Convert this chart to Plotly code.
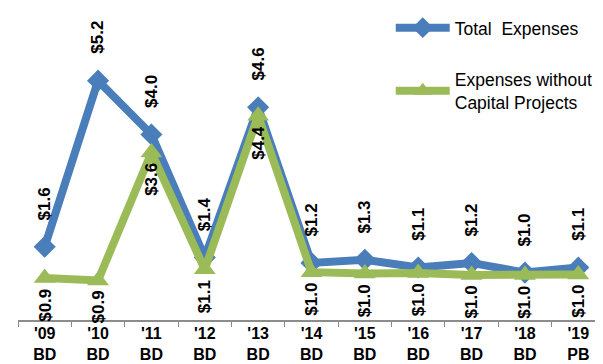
import plotly.graph_objects as go

categories = ["'09<br>BD", "'10<br>BD", "'11<br>BD", "'12<br>BD", "'13<br>BD", "'14<br>BD",
              "'15<br>BD", "'16<br>BD", "'17<br>BD", "'18<br>BD", "'19<br>PB"]
total_expenses = [1.59, 5.2, 4.03, 1.36, 4.62, 1.24, 1.31, 1.14, 1.24, 1.03, 1.14]
expenses_wo_capital = [0.91, 0.86, 3.64, 1.1, 4.44, 1.04, 1.01, 1.02, 0.98, 0.98, 0.99]

BLUE = "#4A7EBB"
GREEN = "#9BBB59"
FONT = "Arial, Liberation Sans, sans-serif"

fig = go.Figure()
fig.add_trace(go.Scatter(
    x=categories, y=total_expenses, name="Total\u00a0 Expenses", mode="lines+markers",
    line=dict(color=BLUE, width=8),
    marker=dict(symbol="diamond", size=17, color=BLUE),
    legendgroup="a",
))
fig.add_trace(go.Scatter(
    x=categories, y=expenses_wo_capital, name="Expenses without<br>Capital Projects",
    mode="lines+markers",
    line=dict(color=GREEN, width=8),
    marker=dict(symbol="triangle-up", size=19, color=GREEN),
    legendgroup="b",
))

annotations = []
for c, v in zip(categories, total_expenses):
    annotations.append(dict(x=c, y=v, xref="x", yref="y", text=f"${v:.1f}", showarrow=False,
                            textangle=-90, yshift=43,
                            font=dict(family=FONT, size=17, color="black", weight="bold")))
for c, v in zip(categories, expenses_wo_capital):
    annotations.append(dict(x=c, y=v, xref="x", yref="y", text=f"${v:.1f}", showarrow=False,
                            textangle=-90, yshift=-27,
                            font=dict(family=FONT, size=17, color="black", weight="bold")))

fig.update_layout(
    template="none",
    width=603, height=364,
    margin=dict(l=10, r=6, t=5, b=52, autoexpand=False),
    paper_bgcolor="white", plot_bgcolor="white",
    font=dict(family=FONT, color="black"),
    showlegend=True,
    legend=dict(x=0.635, y=0.995, xref="paper", yref="container", xanchor="left", yanchor="top",
                bgcolor="rgba(0,0,0,0)", font=dict(size=17.5, family=FONT, color="black"),
                tracegroupgap=26, itemwidth=54),
    annotations=annotations,
    xaxis=dict(type="category", range=[-0.5, 10.5], showgrid=False, zeroline=False,
               showline=True, linecolor="#8C8C8C", linewidth=1.5,
               ticks="outside", tickson="boundaries", ticklen=5, tickcolor="#8C8C8C",
               ticklabelstandoff=-2,
               tickfont=dict(family=FONT, size=16, color="black", weight="bold")),
    yaxis=dict(range=[0, 6.67], visible=False, showgrid=False, zeroline=False),
)

fig.write_html("out.html")
